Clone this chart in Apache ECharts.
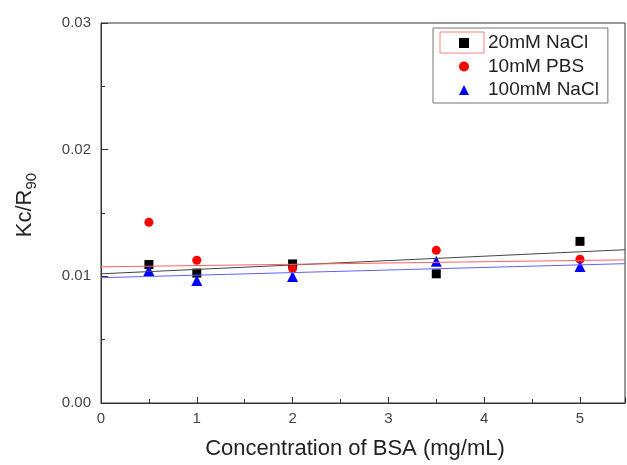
<!DOCTYPE html>
<html>
<head>
<meta charset="utf-8">
<script src="https://cdn.jsdelivr.net/npm/echarts@6/dist/echarts.min.js"></script>
<style>
html,body{margin:0;padding:0;background:#fff;}
#main{width:627px;height:465px;}
</style>
</head>
<body>
<div id="main"></div>
<script>
// BSA concentration (mg/mL)
var conc = [0.5, 1, 2, 3.5, 5];
// Kc/R90 values
var nacl20 = [0.01093, 0.01026, 0.01098, 0.01020, 0.01276];
var pbs10 = [0.01427, 0.01127, 0.01061, 0.01205, 0.01135];
var nacl100 = [0.01046, 0.00968, 0.00999, 0.01119, 0.01077];
// fitted lines, end points [x, y]
var fitX = [0, 5.47];
var fit20 = [0.0102, 0.0121];
var fit10 = [0.01075, 0.0113];
var fit100 = [0.00989, 0.0110];

var names = ['20mM NaCl', '10mM PBS', '100mM NaCl'];
var colors = ['#000000', '#ff0000', '#0000ff'];
var xTicks = [0, 1, 2, 3, 4, 5];

var pairs = function(xs, ys){
    return xs.map(function(x, i){ return [x, ys[i]]; });
};

var font = 'Liberation Sans, Arial, sans-serif';
var myChart = echarts.init(document.getElementById('main'));
myChart.setOption({
    animation: false,
    grid: {
        left: 101,
        right: 2,
        top: 23,
        bottom: 59,
        show: true,
        borderColor: '#333',
        borderWidth: 1
    },
    legend: {
        orient: 'vertical',
        left: 433,
        top: 28,
        padding: [5, 9, 3, 26],
        itemGap: 3.5,
        itemWidth: 10,
        itemHeight: 10,
        backgroundColor: '#fff',
        borderColor: '#777',
        borderWidth: 1,
        textStyle: {
            fontFamily: font,
            fontSize: 19,
            lineHeight: 20,
            color: '#222',
            padding: [0, 0, 0, 14]
        },
        data: [
            {name: names[0], icon: 'rect', itemStyle: {color: colors[0]}},
            {name: names[1], icon: 'circle', itemStyle: {color: colors[1]}},
            {name: names[2], icon: 'triangle', itemStyle: {color: colors[2]}}
        ]
    },
    // selection outline around the first legend key, as in the source image
    graphic: [{
        type: 'rect',
        shape: {x: 440, y: 32, width: 44, height: 21},
        style: {fill: 'none', stroke: '#f08080', lineWidth: 1},
        z: 100
    }],
    xAxis: {
        type: 'value',
        min: 0,
        max: 5.47,
        interval: 1,
        name: 'Concentration of BSA (mg/mL)',
        nameLocation: 'middle',
        nameGap: 35,
        nameTextStyle: {fontFamily: font, fontSize: 22, color: '#222', padding: [0, 16, 0, 0]},
        axisLine: {lineStyle: {color: '#333'}},
        axisTick: {inside: true, length: 6, lineStyle: {color: '#333'}},
        minorTick: {show: true, splitNumber: 2, length: 4, lineStyle: {color: '#333'}},
        splitLine: {show: false},
        axisLabel: {
            fontFamily: font, fontSize: 15, color: '#444', margin: 8,
            showMaxLabel: false,
            formatter: function(v){ return xTicks.indexOf(v) >= 0 ? String(v) : ''; }
        }
    },
    yAxis: {
        type: 'value',
        min: 0,
        max: 0.03,
        interval: 0.01,
        name: '{a|Kc/R}{b|90}',
        nameLocation: 'middle',
        nameGap: 62,
        nameRotate: 90,
        nameTextStyle: {
            padding: [0, 0, 0, 16],
            rich: {
                a: {fontFamily: font, fontSize: 22, color: '#222', lineHeight: 28},
                b: {fontFamily: font, fontSize: 15, color: '#222', verticalAlign: 'bottom', padding: [10, 0, 0, 0]}
            }
        },
        axisLine: {show: true, lineStyle: {color: '#333'}},
        axisTick: {show: true, inside: true, length: 7, lineStyle: {color: '#333'}},
        minorTick: {show: true, splitNumber: 2, length: 4, lineStyle: {color: '#333'}},
        splitLine: {show: false},
        axisLabel: {
            fontFamily: font, fontSize: 15, color: '#444', margin: 10,
            formatter: function(v){ return v.toFixed(2); }
        }
    },
    series: [
        {
            name: names[0], type: 'line', data: pairs(fitX, fit20),
            symbol: 'none', itemStyle: {color: colors[0]},
            lineStyle: {color: '#444', width: 1}, silent: true
        },
        {
            name: names[1], type: 'line', data: pairs(fitX, fit10),
            symbol: 'none', itemStyle: {color: colors[1]},
            lineStyle: {color: '#ff6060', width: 1}, silent: true
        },
        {
            name: names[2], type: 'line', data: pairs(fitX, fit100),
            symbol: 'none', itemStyle: {color: colors[2]},
            lineStyle: {color: '#6060ff', width: 1}, silent: true
        },
        {
            name: names[0], type: 'scatter', symbol: 'rect', symbolSize: 9,
            itemStyle: {color: colors[0], opacity: 1}, data: pairs(conc, nacl20)
        },
        {
            name: names[1], type: 'scatter', symbol: 'circle', symbolSize: 9,
            itemStyle: {color: colors[1], opacity: 1}, data: pairs(conc, pbs10)
        },
        {
            name: names[2], type: 'scatter', symbol: 'triangle', symbolSize: 11,
            itemStyle: {color: colors[2], opacity: 1}, data: pairs(conc, nacl100)
        }
    ]
});
</script>
</body>
</html>
